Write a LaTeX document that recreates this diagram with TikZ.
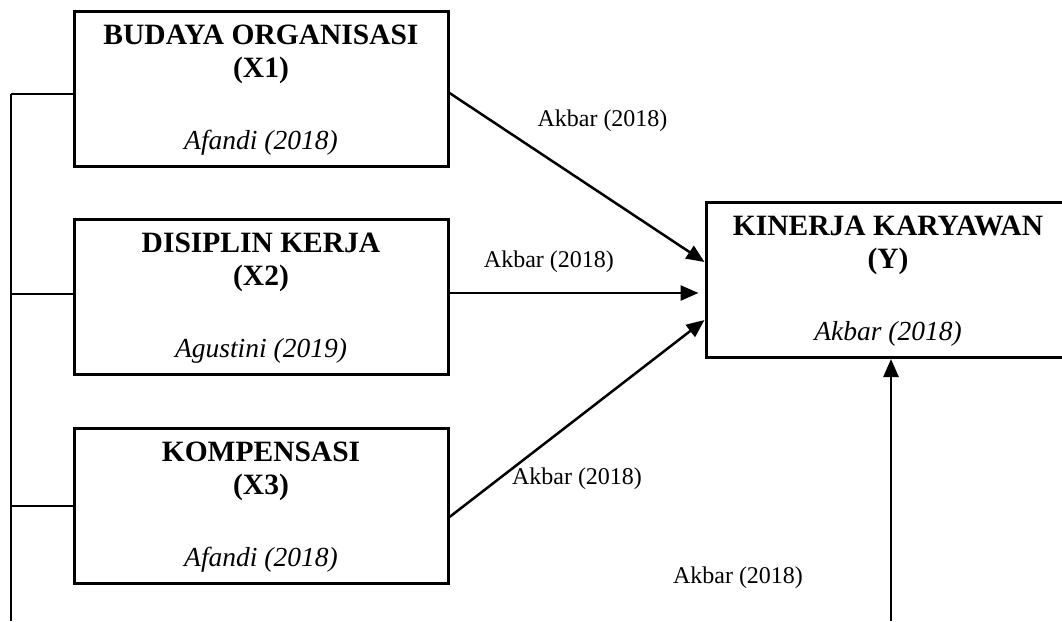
\documentclass[tikz,border=0pt]{standalone}
\usepackage{fontspec}
\setmainfont{Liberation Serif}
\usetikzlibrary{arrows.meta}

\newcommand{\boxtext}[3]{\rule{0pt}{22pt}\textbf{#1}\\\textbf{#2}\\[39pt]{\fontsize{27.5}{33}\selectfont\textit{#3}}}

\tikzset{
  varbox/.style={draw, line width=3pt, minimum width=374pt, minimum height=155pt,
    align=center, inner sep=0pt, font=\fontsize{29.5}{33}\selectfont},
  lbl/.style={font=\fontsize{24}{28}\selectfont},
  arr/.style={line width=2.5pt, -{Triangle[length=18pt,width=15pt]}}
}

\begin{document}
\begin{tikzpicture}[x=1pt, y=-1pt]
\useasboundingbox (0,0) rectangle (1062,621);

\node[varbox] (X1) at (261,88.5) {\boxtext{BUDAYA ORGANISASI}{(X1)}{Afandi (2018)}};
\node[varbox] (X2) at (261,296.5) {\boxtext{DISIPLIN KERJA}{(X2)}{Agustini (2019)}};
\node[varbox] (X3) at (261,506) {\boxtext{KOMPENSASI}{(X3)}{Afandi (2018)}};
\node[varbox, minimum width=364pt] (Y) at (888,280) {\boxtext{KINERJA KARYAWAN}{(Y)}{Akbar (2018)}};

%left bracket
\coordinate (top) at (11,94);
\coordinate (bot) at (11,621);
\coordinate (t2) at (11,294);
\coordinate (t3) at (11,506);
\coordinate (ext) at (891,621);

\draw[line width=1.5pt] (top) -- (bot);
\draw[line width=1.5pt] (top) -- (top -| X1.west);
\draw[line width=1.5pt] (t2) -- (t2 -| X2.west);
\draw[line width=1.5pt] (t3) -- (t3 -| X3.west);

\path[every node/.style={lbl}]
    ([yshift=-4.5pt]X1.east) edge[arr] node [pos=0.6, yshift=74pt] {Akbar (2018)} ([yshift=18pt]Y.west)
    ([yshift=3.5pt]X2.east) edge[arr, shorten >=6pt] node [pos=0.39, yshift=31pt] {Akbar (2018)} ([yshift=3.5pt]X2.east -| Y.west)
    ([yshift=-11pt]X3.east) edge[arr] node [pos=0.5, yshift=-60pt] {Akbar (2018)} ([yshift=-40pt]Y.west)
    (ext) edge[arr] node [pos=0.167, xshift=-153pt] {Akbar (2018)} (ext |- Y.south);
\end{tikzpicture}
\end{document}
